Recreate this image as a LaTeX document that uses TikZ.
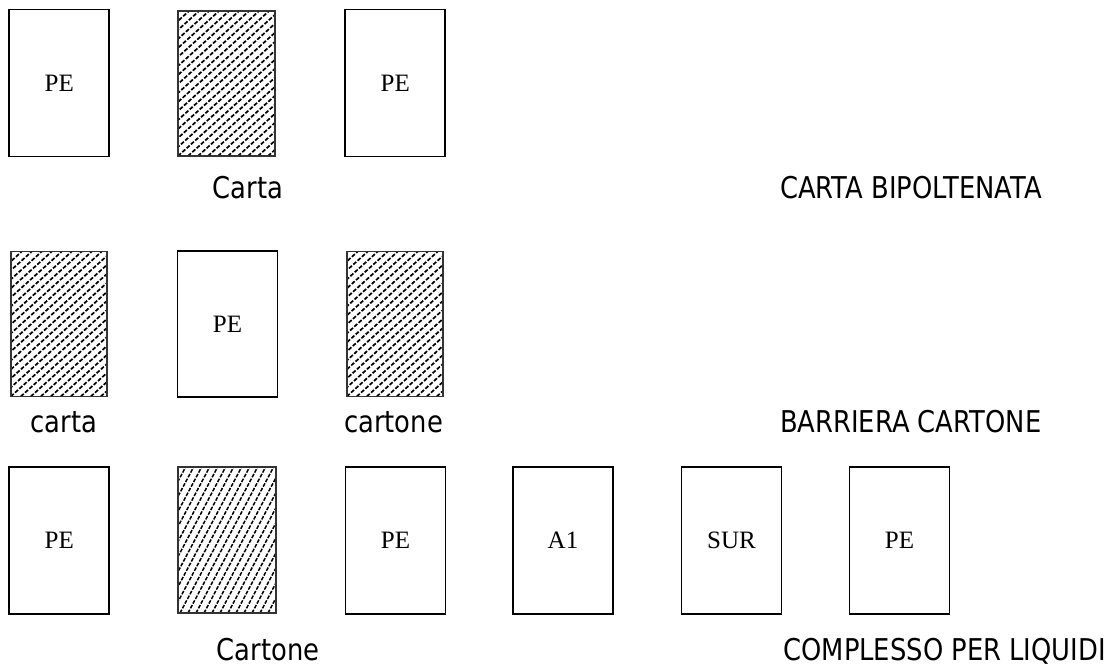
\documentclass[tikz,border=0pt]{standalone}
\usepackage{fontspec}
\setmainfont{Liberation Serif}
\newfontfamily\labfont[FakeStretch=0.86]{DejaVu Sans}
\begin{document}
\begin{tikzpicture}[x=1pt,y=-1pt,
  pebox/.style={draw=black, line width=1.8pt, minimum width=100pt, minimum height=147pt, inner sep=0pt,
    font=\fontsize{25}{29}\selectfont},
  hbox/.style={draw=black!80, line width=1.6pt, minimum width=97pt, minimum height=145pt, inner sep=0pt,
    path picture={
      \foreach \i in {-190,-180,...,110}
        \draw[black, line width=1.7pt, dash pattern=on 4pt off 1.8pt]
          ([xshift=\i pt]path picture bounding box.south west) -- ++(42:300pt);
    }},
  hboxb/.style={draw=black!80, line width=1.6pt, minimum width=98pt, minimum height=146pt, inner sep=0pt,
    path picture={
      \foreach \i in {-110,-102,...,110}
        \draw[black, line width=1.5pt, dash pattern=on 3.8pt off 1.5pt]
          ([xshift=\i pt]path picture bounding box.south west) -- ++(62:200pt);
    }},
  lab/.style={font=\labfont\fontsize{30}{36}\selectfont, inner sep=0pt}
]
\useasboundingbox (0,0) rectangle (1115,667);
% row 1
\node[pebox] (a1) at (59.3,83) {PE};
\node[hbox] (a2) at (226.5,83.5) {};
\node[pebox] (a3) at (395.3,83) {PE};
\node[lab, anchor=base] (ta) at (248,198) {Carta};
\node[lab, anchor=base east] (tA) at (1042,198) {CARTA BIPOLTENATA};
% row 2
\node[hbox, minimum width=96.5pt] (b1) at (59,324) {};
\node[pebox, minimum height=146pt] (b2) at (227.5,324) {PE};
\node[hbox, minimum width=96.5pt] (b3) at (395,324) {};
\node[lab, anchor=base] (tb1) at (64,432) {carta};
\node[lab, anchor=base] (tb2) at (393.5,432) {cartone};
\node[lab, anchor=base west] (tB) at (tA.base west |- 0,432) {BARRIERA CARTONE};
% row 3
\node[pebox] (c1) at (59.3,540.3) {PE};
\node[hboxb] (c2) at (227,540) {};
\node[pebox] (c3) at (395.5,540.3) {PE};
\node[pebox] (c4) at (563,540.3) {A1};
\node[pebox] (c5) at (731.5,540.3) {SUR};
\node[pebox] (c6) at (899.5,540.3) {PE};
\node[lab, anchor=base] (tc) at (268,660) {Cartone};
\node[lab, anchor=base east] (tC) at (1106,660) {COMPLESSO PER LIQUIDI};
\end{tikzpicture}
\end{document}
